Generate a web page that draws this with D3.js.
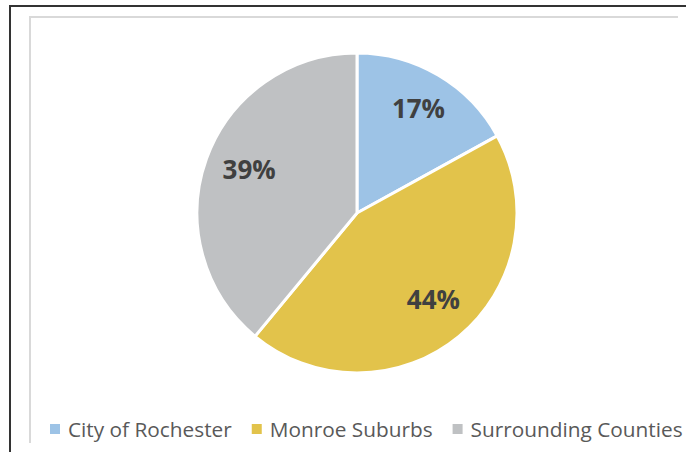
<!DOCTYPE html>
<html lang="en">
  <head>
    <meta charset="UTF-8" />
    <title>Pie chart</title>
    <style>
      body { margin: 0; background: #fff; }
      .label { font-family: "Open Sans", sans-serif; font-weight: bold; font-size: 26px; fill: #404040; text-anchor: middle; dominant-baseline: central; }
      .legend text { font-family: "Open Sans", sans-serif; font-size: 20.8px; fill: #595959; dominant-baseline: central; }
    </style>
  </head>
  <body>
    <svg width="686" height="452"></svg>
    <script src="https://d3js.org/d3.v7.min.js"></script>
    <script>
      const categories = ["City of Rochester", "Monroe Suburbs", "Surrounding Counties"];
      const shares = [17, 44, 39];
      const colors = ["#9DC3E6", "#E2C34B", "#BFC1C3"];

      const svg = d3.select("svg");

      // outer dark frame and inner light chart frame (cropped on the right/bottom)
      svg.append("path")
        .attr("d", "M10,452 V6 H686")
        .attr("fill", "none")
        .attr("stroke", "#333")
        .attr("stroke-width", 2);
      svg.append("path")
        .attr("d", "M30,443 V17 H678")
        .attr("fill", "none")
        .attr("stroke", "#d9d9d9")
        .attr("stroke-width", 2);

      const cx = 357, cy = 213, r = 160;

      const pie = d3.pie().sort(null).value((d) => d.value);
      const data = pie(categories.map((c, i) => ({ name: c, value: shares[i], color: colors[i] })));

      const arc = d3.arc().innerRadius(0).outerRadius(r);
      const labelArc = d3.arc().innerRadius(r * 0.73).outerRadius(r * 0.73);

      const g = svg.append("g").attr("transform", `translate(${cx},${cy})`);

      g.selectAll("path")
        .data(data)
        .enter()
        .append("path")
        .attr("d", arc)
        .attr("fill", (d) => d.data.color)
        .attr("stroke", "#fff")
        .attr("stroke-width", 3)
        .attr("stroke-linejoin", "round");

      g.selectAll("text")
        .data(data)
        .enter()
        .append("text")
        .attr("class", "label")
        .attr("transform", (d) => {
          const [x, y] = labelArc.centroid(d);
          // nudge toward Excel's placement
          return `translate(${x + 2},${y - 4})`;
        })
        .text((d) => d.data.value + "%");

      // legend
      const legend = svg.append("g").attr("class", "legend");
      let x = 50;
      const ly = 429;
      data.forEach((d) => {
        const item = legend.append("g");
        item.append("rect")
          .attr("x", x)
          .attr("y", ly - 5)
          .attr("width", 10)
          .attr("height", 10)
          .attr("fill", d.data.color);
        const t = item.append("text")
          .attr("x", x + 18)
          .attr("y", ly)
          .text(d.data.name);
        x += 18 + t.node().getComputedTextLength() + 20;
      });
    </script>
  </body>
</html>
